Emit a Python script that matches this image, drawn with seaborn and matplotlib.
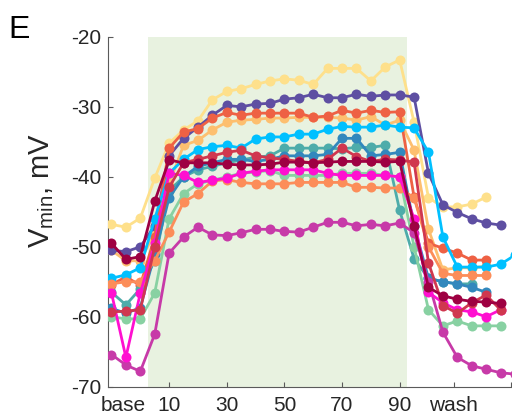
import numpy as np
import pandas as pd
import matplotlib
matplotlib.use("Agg")
import matplotlib.pyplot as plt
import seaborn as sns

# Sampling times (min): three baseline points, drug application every 5 min, washout
time = [-10, -5, 0,
        5, 10, 15, 20, 25, 30, 35, 40, 45, 50, 55, 60, 65, 70, 75, 80, 85, 90,
        95, 100, 105, 110, 115, 120, 125, 130]
nan = np.nan

# Minimum membrane potential (mV) per recorded cell
cell_yellow = [-46.8, -47.2, -45.9,
               -40.2, -35.2, -33.3, -32.0, -29.0, -27.8, -27.4, -26.8, -26.3, -26.0, -26.2, -26.8, -24.5, -24.5, -24.5, -26.3, -24.3, -23.3,
               -32.2, -43.0, -44.3, -44.3, -43.9, -42.9, nan, nan]
cell_purple = [-50.5, -50.7, -50.0,
               -47.0, -37.0, -34.5, -32.9, -31.2, -29.8, -30.0, -29.6, -29.5, -28.9, -28.7, -28.2, -28.7, -28.7, -28.2, -28.5, -28.3, -28.3,
               -28.6, -39.5, -44.0, -45.1, -46.0, -46.6, -46.9, nan]
cell_red = [-55.4, -54.3, -55.5,
            -48.6, -35.9, -33.6, -33.1, -31.6, -30.8, -31.2, -30.9, -30.9, -30.9, -30.9, -31.5, -31.3, -30.5, -30.9, -30.5, -30.8, -30.7,
            -42.9, -49.5, -50.2, -50.9, -51.9, -51.9, nan, nan]
cell_lightorange = [-50.5, -52.0, -52.0,
                    -48.0, -41.0, -35.5, -34.8, -33.3, -32.2, -31.9, -31.8, -31.6, -31.6, -31.5, -31.5, -31.5, -31.6, -31.9, -31.4, -32.6, -31.9,
                    -36.2, -47.5, -53.3, -53.0, -53.0, -52.8, nan, nan]
cell_cyan = [-54.5, -54.0, -53.0,
             -46.0, -39.5, -37.5, -36.1, -35.7, -35.5, -35.9, -34.6, -34.3, -34.3, -33.9, -33.9, -33.2, -32.8, -32.9, -32.9, -32.6, -32.9,
             -33.0, -36.5, -48.6, -52.9, -52.9, -52.9, -52.5, -51.2]
cell_blue = [-58.8, -59.5, -58.7,
             -51.0, -43.0, -40.0, -38.5, -38.0, -37.5, -37.5, -37.8, -37.5, -37.0, -37.0, -37.0, -36.8, -34.5, -34.5, -37.0, -36.8, -36.5,
             -47.0, -54.5, -55.0, -55.3, -55.8, -56.5, nan, nan]
cell_teal = [-56.5, -58.3, -56.0,
             -52.0, -42.0, -40.0, -39.0, -38.5, -38.0, -37.6, -37.2, -37.0, -35.9, -35.9, -35.9, -35.9, -36.0, -35.8, -35.8, -35.5, -44.8,
             -51.7, -54.5, -55.0, -55.3, -55.3, nan, nan, nan]
cell_crimson = [-59.3, -59.2, -59.0,
                -50.0, -41.5, -38.0, -37.5, -37.0, -36.5, -36.2, -37.0, -37.3, -37.5, -37.8, -38.0, -37.5, -35.9, -37.1, -37.8, -37.5, -37.6,
                -37.9, -52.3, -58.4, -59.5, -58.0, -56.9, -59.0, nan]
cell_darkred = [-49.5, -51.8, -51.4,
                -43.5, -37.6, -38.0, -38.0, -38.0, -38.2, -38.3, -38.3, -38.2, -37.9, -37.9, -38.0, -37.9, -37.8, -37.8, -37.8, -37.9, -37.8,
                -47.0, -55.8, -57.0, -57.5, -57.8, -57.9, -58.1, nan]
cell_magenta = [-56.6, -65.8, -56.6,
                -49.5, -39.5, -39.8, -40.8, -40.5, -40.2, -39.5, -39.2, -39.0, -39.0, -39.0, -39.0, -39.5, -39.8, -39.8, -39.8, -39.8, -40.0,
                -46.0, -56.5, -58.0, -59.0, -59.3, -60.0, -59.0, nan]
cell_green = [-60.0, -60.3, -60.3,
              -56.6, -46.0, -42.4, -41.0, -40.5, -40.0, -39.5, -39.3, -39.1, -39.8, -39.8, -39.8, -39.8, -39.5, -39.5, -39.5, -39.8, -40.0,
              -50.0, -59.0, -61.3, -60.6, -61.3, -61.3, -61.3, nan]
cell_orange = [-55.3, -55.0, -55.0,
               -52.0, -47.9, -43.6, -42.4, -40.6, -40.4, -40.8, -41.0, -41.0, -41.0, -40.8, -40.8, -40.8, -40.8, -41.5, -41.5, -41.6, -41.6,
               -43.0, -50.0, -53.8, -54.1, -54.1, -54.1, nan, nan]
cell_violet = [-65.4, -66.9, -67.8,
               -62.5, -50.9, -48.6, -47.2, -48.3, -48.4, -48.0, -47.5, -47.5, -47.8, -47.9, -47.2, -46.5, -46.5, -47.0, -46.8, -47.0, -46.6,
               -48.0, -55.0, -62.2, -65.8, -67.0, -67.5, -68.0, -68.2]

cells = {
    "c1": (cell_yellow, "#fee08b"),
    "c2": (cell_lightorange, "#fdbf6f"),
    "c3": (cell_purple, "#5e4fa2"),
    "c4": (cell_red, "#ee6144"),
    "c5": (cell_cyan, "#00c0ff"),
    "c6": (cell_teal, "#4dacaa"),
    "c7": (cell_blue, "#3288bd"),
    "c8": (cell_green, "#88d1a2"),
    "c9": (cell_orange, "#fc8d59"),
    "c10": (cell_violet, "#c73aa8"),
    "c11": (cell_magenta, "#ff10d0"),
    "c12": (cell_crimson, "#d0374f"),
    "c13": (cell_darkred, "#9e0142"),
}

frames = []
for name, (vals, _) in cells.items():
    frames.append(pd.DataFrame({"cell": name, "time": time, "vmin": vals}))
df = pd.concat(frames, ignore_index=True).dropna()
palette = {name: col for name, (_, col) in cells.items()}

sns.set_theme(style="ticks")
plt.rcParams["font.family"] = ["Liberation Sans", "DejaVu Sans"]
plt.rcParams["mathtext.fontset"] = "custom"
plt.rcParams["mathtext.rm"] = "Liberation Sans"
plt.rcParams["mathtext.it"] = "Liberation Sans"

fig = plt.figure(figsize=(5.12, 4.19), dpi=100)
ax = fig.add_axes([0.211, 0.077, 0.788, 0.835])

# Drug application period
ax.axvspan(2.6, 92.7, color="#e8f2e0", zorder=0, lw=0)

sns.lineplot(data=df, x="time", y="vmin", hue="cell", palette=palette,
             hue_order=list(cells.keys()), estimator=None, sort=True,
             marker="o", markersize=7.2, markeredgewidth=0, linewidth=2.0,
             legend=False, ax=ax, zorder=3)

ax.set_xlim(-11.2, 128.8)
ax.set_ylim(-70, -20)

ax.set_yticks([-70, -60, -50, -40, -30, -20])
ax.set_yticklabels(["-70", "-60", "-50", "-40", "-30", "-20"])
ax.set_xticks([-6, 10, 30, 50, 70, 90, 108.7, 128.8])
ax.set_xticklabels(["base", "10", "30", "50", "70", "90", "wash", ""])
ax.xaxis.get_major_ticks()[0].tick1line.set_visible(False)

axis_col = "#262626"
for side in ["top", "right"]:
    ax.spines[side].set_visible(False)
for side in ["left", "bottom"]:
    ax.spines[side].set_color("#5a5a5a")
    ax.spines[side].set_linewidth(0.8)
ax.tick_params(direction="in", length=3.5, width=0.8, color="#5a5a5a",
               labelsize=15, labelcolor=axis_col)
ax.tick_params(axis="x", pad=7)
ax.tick_params(axis="y", pad=5)

ax.set_xlabel("")
ax.set_ylabel(r"V$_{\mathrm{min}}$, mV", fontsize=21, color=axis_col)
ax.yaxis.set_label_coords(-0.128, 0.56)

fig.text(8 / 512, 1 - 38 / 419, "E", fontsize=23, color="black", va="baseline")

fig.savefig("out.png", dpi=100)
